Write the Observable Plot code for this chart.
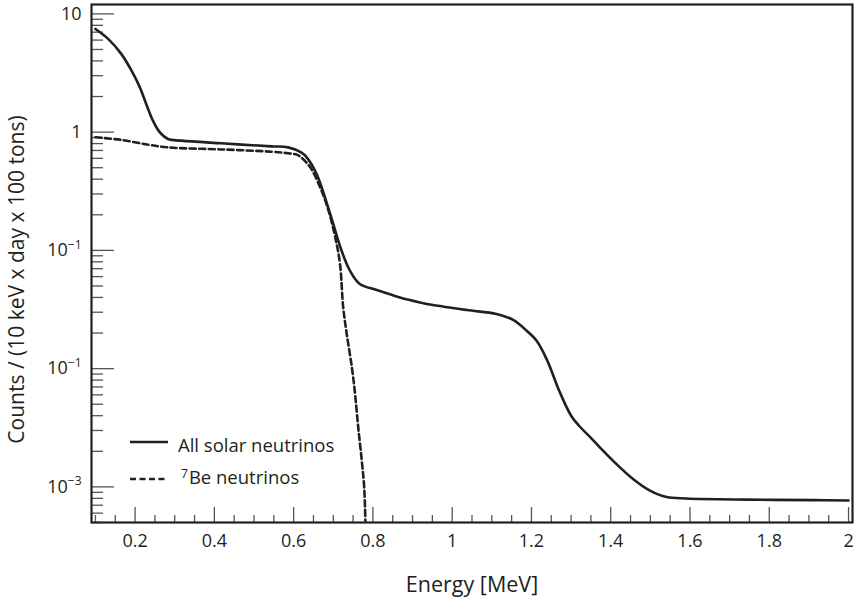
<!DOCTYPE html>
<html>
<head>
<meta charset="utf-8">
<script src="https://cdn.jsdelivr.net/npm/d3@7"></script>
<script src="https://cdn.jsdelivr.net/npm/@observablehq/plot@0.6"></script>
<style>
  body { margin: 0; background: #fff; }
  #chart { position: relative; width: 861px; height: 602px; }
  #chart svg { position: absolute; left: 0; top: 0; }
</style>
</head>
<body>
<div id="chart"></div>
<script>
// Expected solar-neutrino recoil spectrum, counts per 10 keV per day per 100 tons
const allEnergy = [0.100, 0.132, 0.165, 0.191, 0.212, 0.228, 0.245, 0.262, 0.283, 0.317,
  0.418, 0.544, 0.586, 0.619, 0.633, 0.658, 0.679, 0.700, 0.721, 0.742, 0.767, 0.810,
  0.868, 0.919, 0.952, 1.037, 1.112, 1.154, 1.188, 1.213, 1.240, 1.270, 1.300, 1.320,
  1.350, 1.373, 1.406, 1.457, 1.499, 1.541, 1.591, 1.743, 1.911, 2.000];
const allCounts = [7.45, 6.14, 4.59, 3.31, 2.39, 1.73, 1.25, 1.00, 0.875, 0.847,
  0.804, 0.758, 0.743, 0.674, 0.612, 0.443, 0.281, 0.167, 0.0993, 0.0673, 0.052, 0.0462,
  0.040, 0.0363, 0.0345, 0.0313, 0.029, 0.0258, 0.0209, 0.0172, 0.0117, 0.0065, 0.0040, 0.00329,
  0.0026, 0.00215, 0.00166, 0.00116, 0.00093, 0.00082, 0.000798, 0.000781, 0.000773, 0.000767];

const be7Energy = [0.100, 0.165, 0.233, 0.283, 0.418, 0.544, 0.586, 0.608, 0.619, 0.642,
  0.667, 0.688, 0.705, 0.717, 0.725, 0.734, 0.747, 0.755, 0.763, 0.772, 0.778, 0.781];
const be7Counts = [0.904, 0.859, 0.783, 0.743, 0.714, 0.683, 0.662, 0.645, 0.612, 0.504,
  0.341, 0.217, 0.129, 0.0767, 0.033, 0.0196, 0.0102, 0.0061, 0.00318, 0.00166, 0.00099, 0.000516];

const xMajorTicks = [0.2, 0.4, 0.6, 0.8, 1.0, 1.2, 1.4, 1.6, 1.8, 2.0];
const xTickLabels = ["0.2", "0.4", "0.6", "0.8", "1", "1.2", "1.4", "1.6", "1.8", "2"];
const xMinorTicks = [0.1, 0.15, 0.25, 0.3, 0.35, 0.45, 0.5, 0.55, 0.65, 0.7, 0.75, 0.85, 0.9, 0.95,
  1.05, 1.1, 1.15, 1.25, 1.3, 1.35, 1.45, 1.5, 1.55, 1.65, 1.7, 1.75, 1.85, 1.9, 1.95];

const yMajorTicks = [10, 1, 0.1, 0.01, 0.001];
const yTickLabels = ["10", "1", "10^\u22121", "10^\u22121", "10^\u22123"];
const yMinorTicks = [0.0005, 0.0006, 0.0007, 0.0008, 0.0009,
  0.002, 0.003, 0.004, 0.005, 0.006, 0.007, 0.008, 0.009,
  0.02, 0.03, 0.04, 0.05, 0.06, 0.07, 0.08, 0.09,
  0.2, 0.3, 0.4, 0.5, 0.6, 0.7, 0.8, 0.9,
  2, 3, 4, 5, 6, 7, 8, 9];

const seriesNames = ["All solar neutrinos", "Be neutrinos"];
const seriesPrefix = ["", "7"];

const W = 861, H = 602;
const M = {left: 91, right: 9, top: 4, bottom: 80};
const innerW = W - M.left - M.right;
const innerH = H - M.top - M.bottom;
const ink = "#231f20";
const tickInk = "#555";
const font = "'Open Sans', sans-serif";

const chart = Plot.plot({
  width: W,
  height: H,
  marginLeft: M.left,
  marginRight: M.right,
  marginTop: M.top,
  marginBottom: M.bottom,
  style: {fontFamily: font, background: "#fff", color: ink},
  x: {domain: [0.09, 2.01], axis: null},
  y: {type: "log", domain: [0.0005, 12], axis: null},
  marks: [
    // inward ticks on the left edge
    Plot.tickY(yMinorTicks, {y: d => d, insetRight: innerW - 12, stroke: tickInk, strokeWidth: 1.3}),
    Plot.tickY(yMajorTicks, {y: d => d, insetRight: innerW - 23, stroke: tickInk, strokeWidth: 1.3}),
    // inward ticks on the bottom edge
    Plot.tickX(xMinorTicks, {x: d => d, insetTop: innerH - 7, stroke: tickInk, strokeWidth: 1.3}),
    Plot.tickX(xMajorTicks, {x: d => d, insetTop: innerH - 15, stroke: tickInk, strokeWidth: 1.3}),
    // spectra
    Plot.line(be7Energy, {x: d => d, y: (d, i) => be7Counts[i], curve: "catmull-rom",
      stroke: ink, strokeWidth: 2.6, strokeDasharray: "6,3.5", clip: true}),
    Plot.line(allEnergy, {x: d => d, y: (d, i) => allCounts[i], curve: "catmull-rom",
      stroke: ink, strokeWidth: 2.6, clip: true}),
    Plot.frame({stroke: ink, strokeWidth: 2.2}),
    // tick labels
    Plot.text(yMajorTicks, {y: d => d, text: (d, i) => yTickLabels[i], frameAnchor: "left",
      textAnchor: "end", dx: -10, fontSize: 18, fill: ink}),
    Plot.text(xMajorTicks, {x: d => d, text: (d, i) => xTickLabels[i], frameAnchor: "bottom",
      lineAnchor: "top", dy: 12, fontSize: 18, fill: ink}),
    // axis titles
    Plot.text(["Energy [MeV]"], {frameAnchor: "bottom", textAnchor: "middle", lineAnchor: "middle",
      dy: 63, fontSize: 21.5, fill: ink}),
    Plot.text(["Counts / (10 keV x day x 100 tons)"], {frameAnchor: "left", textAnchor: "middle",
      rotate: -90, lineAnchor: "middle", dx: -74, dy: 16, fontSize: 21, fill: ink})
  ]
});

// turn "base^exponent" labels into superscripts
d3.select(chart).selectAll("text").each(function () {
  const s = this.textContent;
  if (!s.includes("^")) return;
  const [base, exp] = s.split("^");
  const t = d3.select(this);
  t.text(null);
  t.append("tspan").text(base);
  t.append("tspan").attr("font-size", 12).attr("dy", "-0.6em").text(exp);
});

const root = document.getElementById("chart");
root.appendChild(chart);

// legend in the lower-left of the frame
const legend = d3.select(root).append("svg")
  .attr("width", W).attr("height", H)
  .style("pointer-events", "none")
  .attr("font-family", font);
const rows = [
  {y: 442, dash: null, x2: 168, tx: 178, base: 451.5},
  {y: 479, dash: "6,3.5", x2: 166, tx: 181, base: 483.5}
];
rows.forEach((r, i) => {
  legend.append("line")
    .attr("x1", 130).attr("x2", r.x2).attr("y1", r.y).attr("y2", r.y)
    .attr("stroke", ink).attr("stroke-width", 2.6)
    .attr("stroke-dasharray", r.dash);
  const t = legend.append("text")
    .attr("x", r.tx).attr("y", r.base)
    .attr("font-size", 18.5).attr("fill", ink);
  if (seriesPrefix[i]) {
    t.append("tspan").attr("font-size", 12).attr("dy", "-6").text(seriesPrefix[i]);
    t.append("tspan").attr("dy", "6").attr("dx", "1").text(seriesNames[i]);
  } else {
    t.text(seriesNames[i]);
  }
});
</script>
</body>
</html>
